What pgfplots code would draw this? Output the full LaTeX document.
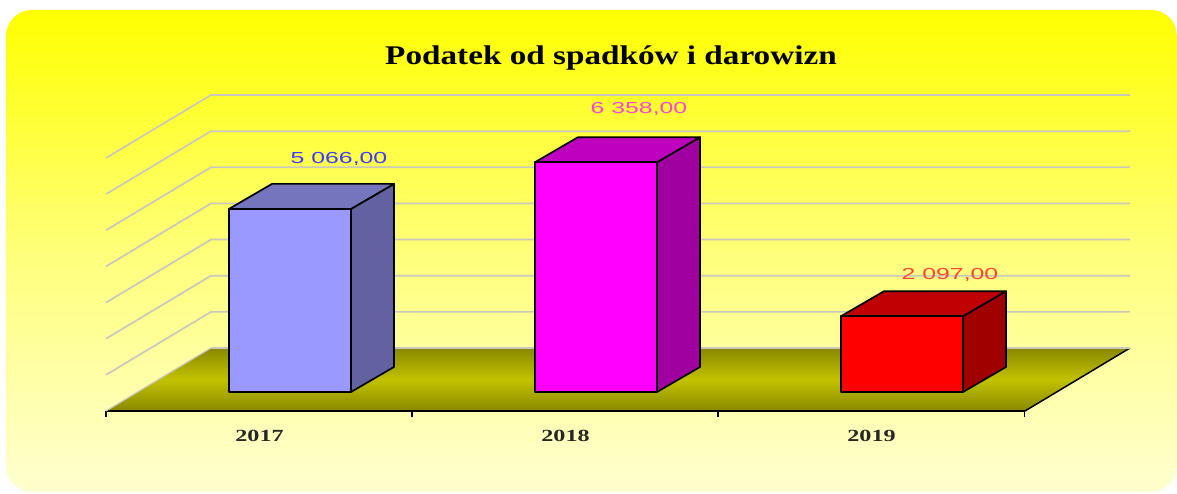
\documentclass[border=0pt]{standalone}
\usepackage{fontspec}
\setmainfont{Liberation Serif}
\newfontfamily\lab{Liberation Sans}
\usepackage{pgfplots}
\pgfplotsset{compat=1.18}
\definecolor{bgtop}{RGB}{255,255,0}
\definecolor{bgmid}{RGB}{255,255,122}
\definecolor{bgbot}{RGB}{255,255,208}
\definecolor{floorE}{RGB}{136,136,0}
\definecolor{floorM}{RGB}{194,194,0}
\definecolor{gridc}{RGB}{200,200,190}
\definecolor{aF}{RGB}{153,153,255}
\definecolor{aT}{RGB}{117,117,189}
\definecolor{aS}{RGB}{98,98,160}
\definecolor{bF}{RGB}{255,0,255}
\definecolor{bT}{RGB}{192,0,191}
\definecolor{bS}{RGB}{160,0,160}
\definecolor{cF}{RGB}{255,0,0}
\definecolor{cT}{RGB}{192,0,0}
\definecolor{cS}{RGB}{160,0,0}
\begin{document}
\begin{tikzpicture}[x=1pt,y=1pt]
\path[use as bounding box] (-106,-83) rectangle (1071,411);
\shade[top color=bgtop,bottom color=bgbot,middle color=bgmid,rounded corners=26pt]
  (-100,-81) rectangle (1071,401);
\begin{axis}[
  at={(0,0)},anchor=south west,
  scale only axis,width=919pt,height=316pt,
  xmin=106,xmax=1025,ymin=-525.7,ymax=8218,
  clip=false,
  axis x line=bottom,axis y line=none,
  axis line style={-,line width=1.5pt,black},
  tick align=outside,tick pos=left,
  xtick={259.5,565.5,871.5},
  xticklabels={2017,2018,2019},
  major tick length=0pt,
  xticklabel style={font=\fontsize{17}{17}\selectfont\bfseries,yshift=-16pt,xscale=1.42,text=black!85},
  extra x ticks={106,412,718,1024.5},
  extra x tick labels={},
  extra x tick style={major tick length=6pt,tick style={black,line width=1.1pt}},
]
% floor
\shade[top color=floorE,bottom color=floorE,middle color=floorM]
  (axis cs:106,-525.7) -- (axis cs:211,1217.5) -- (axis cs:1130,1217.5) -- (axis cs:1025,-525.7) -- cycle;
\addplot[black,line width=1.5pt,forget plot] coordinates {(106,-525.7) (1025,-525.7) (1130,1217.5)};
% grid
\addplot[gridc,line width=1.7pt] coordinates {(211,1217.5) (1130,1217.5)};
\addplot[gridc,line width=1.2pt] coordinates {(106,-525.5) (211,1217.5)};
\addplot[gridc,line width=1.7pt] coordinates {(106,474.5) (211,2217.5) (1130,2217.5)};
\addplot[gridc,line width=1.7pt] coordinates {(106,1474.5) (211,3217.5) (1130,3217.5)};
\addplot[gridc,line width=1.7pt] coordinates {(106,2474.5) (211,4217.5) (1130,4217.5)};
\addplot[gridc,line width=1.7pt] coordinates {(106,3474.5) (211,5217.5) (1130,5217.5)};
\addplot[gridc,line width=1.7pt] coordinates {(106,4474.5) (211,6217.5) (1130,6217.5)};
\addplot[gridc,line width=1.7pt] coordinates {(106,5474.5) (211,7217.5) (1130,7217.5)};
\addplot[gridc,line width=1.7pt] coordinates {(106,6474.5) (211,8217.5) (1130,8217.5)};
% 2017
\addplot[fill=aS,draw=black,line width=1.7pt,line join=round] coordinates {(351,0) (394,692) (394,5758) (351,5066)} -- cycle;
\addplot[fill=aT,draw=black,line width=1.7pt,line join=round] coordinates {(229,5066) (272,5758) (394,5758) (351,5066)} -- cycle;
\addplot[fill=aF,draw=black,line width=1.7pt,line join=round] coordinates {(229,0) (351,0) (351,5066) (229,5066)} -- cycle;
% 2018
\addplot[fill=bS,draw=black,line width=1.7pt,line join=round] coordinates {(657,0) (700,692) (700,7050) (657,6358)} -- cycle;
\addplot[fill=bT,draw=black,line width=1.7pt,line join=round] coordinates {(535,6358) (578,7050) (700,7050) (657,6358)} -- cycle;
\addplot[fill=bF,draw=black,line width=1.7pt,line join=round] coordinates {(535,0) (657,0) (657,6358) (535,6358)} -- cycle;
% 2019
\addplot[fill=cS,draw=black,line width=1.7pt,line join=round] coordinates {(963,0) (1006,692) (1006,2789) (963,2097)} -- cycle;
\addplot[fill=cT,draw=black,line width=1.7pt,line join=round] coordinates {(841,2097) (884,2789) (1006,2789) (963,2097)} -- cycle;
\addplot[fill=cF,draw=black,line width=1.7pt,line join=round] coordinates {(841,0) (963,0) (963,2097) (841,2097)} -- cycle;
% labels
\node[font=\lab\fontsize{16}{16}\selectfont,text={rgb,255:red,60;green,60;blue,255},xscale=1.55] at (axis cs:339,6455) {5 066,00};
\node[font=\lab\fontsize{16}{16}\selectfont,text={rgb,255:red,255;green,70;blue,210},xscale=1.55] at (axis cs:639,7845) {6 358,00};
\node[font=\lab\fontsize{16}{16}\selectfont,text={rgb,255:red,255;green,70;blue,50},xscale=1.55] at (axis cs:950,3232) {2 097,00};
% title
\node[font=\fontsize{27}{27}\selectfont\bfseries,text=black,xscale=1.23] at (axis cs:611,9247) {Podatek od spadków i darowizn};
\end{axis}
\end{tikzpicture}
\end{document}
